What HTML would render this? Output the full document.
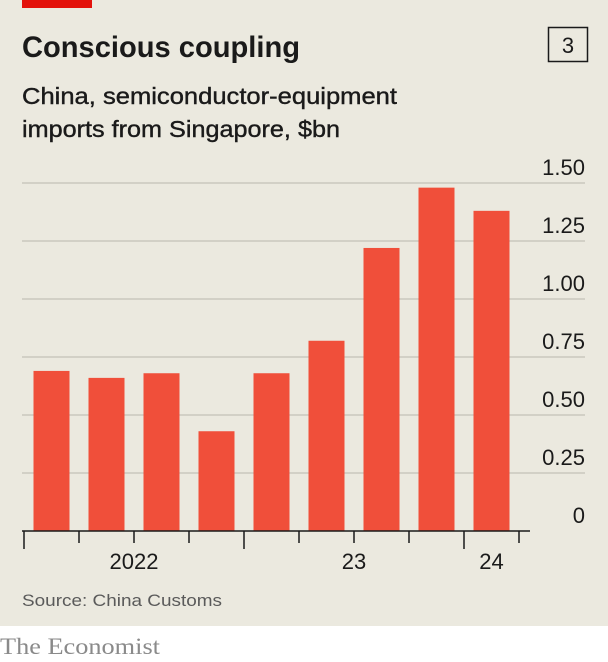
<!DOCTYPE html>
<html><head><meta charset="utf-8"><style>
html,body{margin:0;padding:0;background:#fff}
svg{display:block}
text{font-family:"Liberation Sans",sans-serif}
</style></head><body>
<svg id="c" width="608" height="662" viewBox="0 0 608 662">
<rect x="0" y="0" width="608" height="626" fill="#ebe9df"/>
<rect x="22" y="0" width="70" height="8" fill="#e3120b"/>
<text x="22" y="57" font-size="30" font-weight="bold" fill="#1a1a1a" textLength="278" lengthAdjust="spacingAndGlyphs">Conscious coupling</text>
<rect x="548.5" y="27.5" width="39" height="34" fill="none" stroke="#1a1a1a" stroke-width="1.5"/>
<text x="568" y="53" font-size="22" text-anchor="middle" fill="#1a1a1a">3</text>
<text x="22" y="104" font-size="23" fill="#1a1a1a" stroke="#1a1a1a" stroke-width="0.4" textLength="375" lengthAdjust="spacingAndGlyphs">China, semiconductor-equipment</text>
<text x="22" y="137" font-size="23" fill="#1a1a1a" stroke="#1a1a1a" stroke-width="0.4" textLength="318" lengthAdjust="spacingAndGlyphs">imports from Singapore, $bn</text>
<g id="grid"></g><g id="bars"></g><g id="axis"></g>
<text x="22" y="606" font-size="17" fill="#5a5a5a" textLength="200" lengthAdjust="spacingAndGlyphs">Source: China Customs</text>
<text x="0" y="654" font-size="23" fill="#8a8a8a" style="font-family:'Liberation Serif',serif" textLength="160" lengthAdjust="spacingAndGlyphs">The Economist</text>
</svg>
<script>
const categories=["2022Q1","2022Q2","2022Q3","2022Q4","2023Q1","2023Q2","2023Q3","2023Q4","2024Q1"];
const values=[0.69,0.66,0.68,0.43,0.68,0.82,1.22,1.48,1.38];
const yTicks=[0,0.25,0.5,0.75,1.0,1.25,1.5];
const yTickLabels=["0","0.25","0.50","0.75","1.00","1.25","1.50"];
const xLabels=["2022","23","24"];
const xLabelIdx=[1.5,5.5,8];
const NS="http://www.w3.org/2000/svg";
const y0=531,pxPerUnit=232,x0=24,step=55,bw=36;
const y=v=>y0-v*pxPerUnit;
const x=i=>x0+i*step;
function mk(tag,attrs,parent){const e=document.createElementNS(NS,tag);for(const k in attrs)e.setAttribute(k,attrs[k]);parent.appendChild(e);return e;}
const grid=document.getElementById('grid'),bars=document.getElementById('bars'),axis=document.getElementById('axis');
yTicks.forEach((t,i)=>{
  if(i>0){const l=mk('line',{x1:22,x2:585,y1:y(t),y2:y(t),stroke:'#c9c7bd','stroke-width':1.5},grid);
  
  }
  const tx=mk('text',{x:585,y:y(t)-8,'font-size':22,'text-anchor':'end',fill:'#1a1a1a'},grid);
  tx.textContent=yTickLabels[i];
  
  
});
values.forEach((v,i)=>{
  const r=mk('rect',{x:x(i)+(step-bw)/2,y:y(v),width:bw,height:y0-y(v),fill:'#f04f3a'},bars);
  
  
});
const al=mk('line',{x1:22,x2:530,y1:y0,y2:y0,stroke:'#1a1a1a','stroke-width':1.5},axis);


for(let i=0;i<=categories.length;i++){
  const major=(i%4===0);
  const t=mk('line',{x1:x(i),x2:x(i),y1:y0,y2:y0+(major?18:12),stroke:'#1a1a1a','stroke-width':1.5},axis);
  
  
}
xLabels.forEach((s,i)=>{
  const cx=x0+(xLabelIdx[i]+0.5)*step;
  const t=mk('text',{x:cx,y:569,'font-size':22,'text-anchor':'middle',fill:'#1a1a1a'},axis);
  t.textContent=s;
  
  
});
</script>
</body></html>
